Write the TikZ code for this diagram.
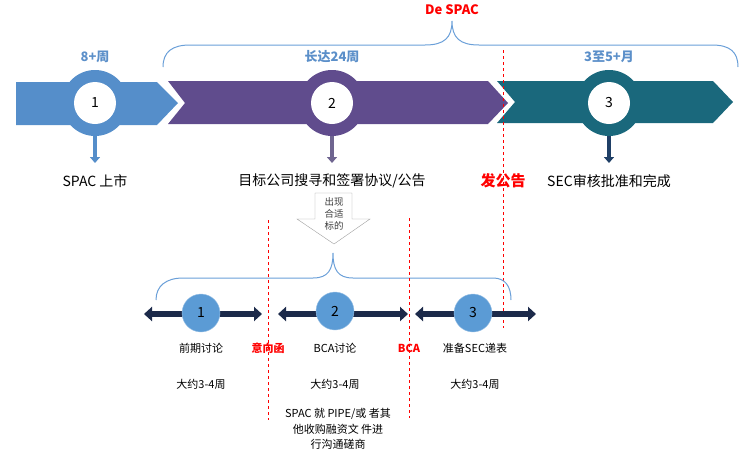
\documentclass[tikz,border=0pt]{standalone}
\usepackage{fontspec}
\setmainfont{Noto Sans CJK SC}
\usetikzlibrary{arrows.meta,positioning}
\definecolor{blueseg}{HTML}{558ECA}
\definecolor{purpleseg}{HTML}{604C8D}
\definecolor{tealseg}{HTML}{1A687C}
\definecolor{purplestem}{HTML}{6F6590}
\definecolor{tealstem}{HTML}{1F3F66}
\definecolor{dotblue}{HTML}{5B9BD5}
\definecolor{navy}{HTML}{1C2A4A}
\definecolor{bracecol}{HTML}{6A9FD8}
\definecolor{spancol}{HTML}{5B8FC9}
\definecolor{hollow}{HTML}{A0A0A0}
\tikzset{
  ring/.style={circle,minimum size=66pt,inner sep=0pt},
  hole/.style={circle,fill=white,minimum size=42pt,inner sep=0pt,
    font=\fontsize{14}{14}\selectfont},
  stem/.style={-{Triangle[length=6pt,width=10pt]},line width=4pt},
  span/.style={font=\bfseries\fontsize{13}{13}\selectfont,text=spancol},
  lbl/.style={font=\fontsize{14}{14}\selectfont},
  redlbl/.style={font=\bfseries\fontsize{15}{15}\selectfont,text=red},
  dot/.style={circle,fill=dotblue,draw=dotblue!60!white,minimum size=38pt,
    inner sep=0pt,font=\fontsize{14}{14}\selectfont},
  dbl/.style={-{Triangle[length=8pt,width=14pt]},line width=6pt,navy},
  cut/.style={red,dashed,line width=0.8pt},
  brace/.style={bracecol,line width=1pt},
  small/.style={font=\fontsize{11}{15.5}\selectfont,align=center},
  smallred/.style={font=\bfseries\fontsize{11}{11}\selectfont,text=red},
}
\begin{document}
\begin{tikzpicture}[x=1pt,y=-1pt]
\useasboundingbox (0,0) rectangle (750,453);

% top timeline
\fill[blueseg] (16,82) -- (157,82) -- (178,103) -- (157,125) -- (16,125) -- cycle;
\fill[purpleseg] (168,81) -- (488,81) -- (508,103) -- (488,124) -- (168,124) -- (185,103) -- cycle;
\fill[tealseg] (497,81) -- (713,81) -- (733,102) -- (713,123) -- (497,123) -- (515,102) -- cycle;

\node[ring,fill=blueseg] (r1) at (95,103) {};
\node[ring,fill=purpleseg] (r2) at (332,103) {};
\node[ring,fill=tealseg] (r3) at (609,103) {};
\node[hole] (h1) at (95,103) {1};
\node[hole] (h2) at (332,103) {2};
\node[hole] (h3) at (609,103) {3};

\coordinate (t1) at (95,163);
\coordinate (t2) at (332,163);
\coordinate (t3) at (609,163);
\draw[stem,blueseg] (r1.south) -- (t1);
\draw[stem,purplestem] (r2.south) -- (t2);
\draw[stem,tealstem] (r3.south) -- (t3);

\node[lbl] (l1) at (95,181) {SPAC 上市};
\node[lbl] (l2) at (332,181) {目标公司搜寻和签署协议/公告};
\node[redlbl] (ann) at (503,181) {发公告};
\node[lbl] (l3) at (609,181) {SEC审核批准和完成};

\node[span] (w1) at (95,57) {8+周};
\node[span] (w2) at (332,57) {长达24周};
\node[span] (w3) at (609,57) {3至5+月};
\node[font=\bfseries\fontsize{13}{13}\selectfont,text=red] (ds) at (452,10) {De SPAC};

% De SPAC brace
\draw[brace] (163,67) .. controls (163,52) and (172,45) .. (190,45) -- (425,45)
  .. controls (444,45) and (452,38) .. (452,21)
  .. controls (452,38) and (460,45) .. (479,45) -- (712,45)
  .. controls (730,45) and (738,52) .. (738,67);

\draw[cut] (503,50) -- (503,328);

% hollow arrow
\draw[hollow,fill=white] (315,193) -- (352,193) -- (352,219) -- (370,219)
  -- (334,244) -- (297,219) -- (315,219) -- cycle;
\node[font=\fontsize{9.5}{12}\selectfont,align=center,text=black!75] (fit) at (334,214) {出现\\合适\\标的};

% lower brace
\draw[brace] (156,300) .. controls (156,286) and (166,278) .. (183,278) -- (313,278)
  .. controls (328,278) and (333,270) .. (333,253)
  .. controls (333,270) and (338,278) .. (353,278) -- (493,278)
  .. controls (505,278) and (511,286) .. (511,300);

\draw[cut] (268,220) -- (268,420);
\draw[cut] (409,218) -- (409,418);

% lower steps
\coordinate (a1l) at (144,314);
\coordinate (a1r) at (262,314);
\coordinate (a2l) at (278,314);
\coordinate (a2r) at (408,314);
\coordinate (a3l) at (415,314);
\coordinate (a3r) at (536,314);
\draw[dbl] (201,314) -- (a1l);
\draw[dbl] (201,314) -- (a1r);
\draw[dbl] (335,314) -- (a2l);
\draw[dbl] (335,314) -- (a2r);
\draw[dbl] (473,314) -- (a3l);
\draw[dbl] (473,314) -- (a3r);
\node[dot] (d1) at (201,313) {1};
\node[dot] (d2) at (335,311) {2};
\node[dot] (d3) at (473,313) {3};

\node[small] (s1) at (201,348) {前期讨论};
\node[smallred] (loi) at (268,348) {意向函};
\node[small] (s2) at (335,348) {BCA讨论};
\node[smallred] (bca) at (409,348) {BCA};
\node[small] (s3) at (475,348) {准备SEC递表};

\node[small] (p1) at (201,384) {大约3-4周};
\node[small] (p2) at (335,384) {大约3-4周};
\node[small] (p3) at (475,384) {大约3-4周};
\node[small] (pipe) at (338,429) {SPAC 就 PIPE/或 者其\\他收购融资文 件进\\行沟通磋商};
\end{tikzpicture}
\end{document}
